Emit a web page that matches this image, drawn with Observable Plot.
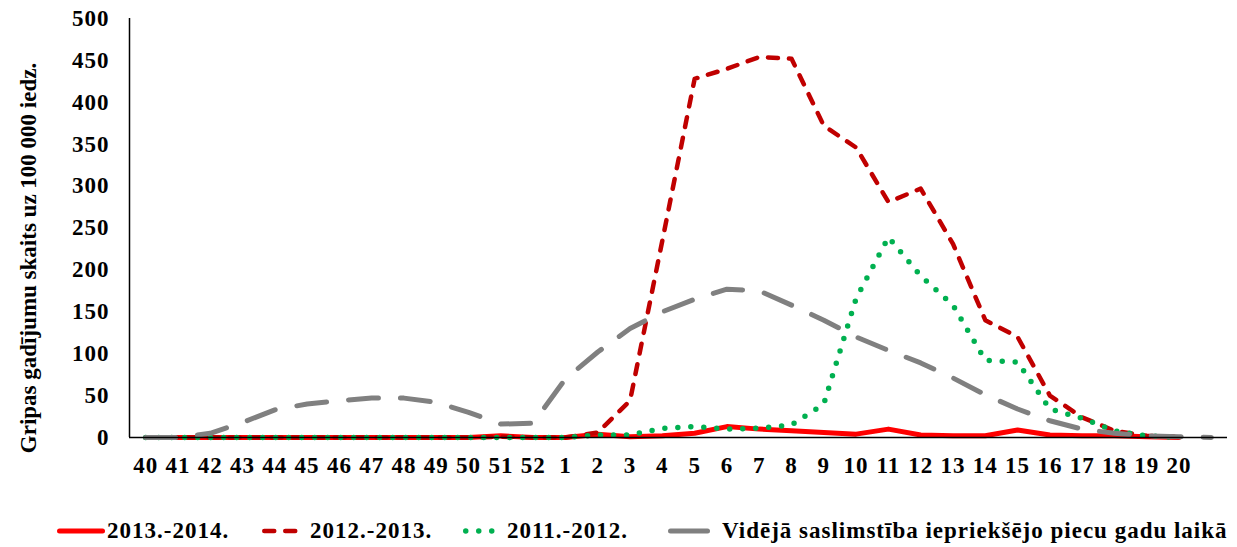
<!DOCTYPE html>
<html>
<head>
<meta charset="utf-8">
<script src="https://cdn.jsdelivr.net/npm/d3@7"></script>
<script src="https://cdn.jsdelivr.net/npm/@observablehq/plot@0.6"></script>
<style>
  body { margin: 0; background: #fff; }
  #wrap { position: relative; width: 1237px; height: 547px; font-family: "Liberation Serif", "Times New Roman", serif; font-weight: bold; color: #000; }
  #chart { position: absolute; left: 0; top: 0; }
  .lg { position: absolute; top: 516px; height: 30px; display: flex; align-items: center; font-size: 23px; letter-spacing: 1px; white-space: nowrap; }
  .lg svg { display: block; }
  #chart g[aria-label="x-axis tick label"] text, #chart g[aria-label="y-axis tick label"] text { letter-spacing: 1px; }
</style>
</head>
<body>
<div id="wrap"><div id="chart"></div><div id="legend"></div></div>
<script>
// Week labels (flu season, week 40 to week 20; last slot unlabeled)
const weeks = ["40","41","42","43","44","45","46","47","48","49","50","51","52",
  "1","2","3","4","5","6","7","8","9","10","11","12","13","14","15","16","17","18","19","20",""];

const yTicks = [0,50,100,150,200,250,300,350,400,450,500];
const yLabel = "Gripas gadījumu skaits uz 100 000 iedz.";

const seriesNames = ["2013.-2014.", "2012.-2013.", "2011.-2012.", "Vidējā saslimstība iepriekšējo piecu gadu laikā"];

// 2013.-2014.
const s2013_2014 = [0,0,0,0,0,0,0,0,0,0,0,2,0,
  0,4,1,2,5,13,10,8,6,4,10,3,2,2,9,3,2,2,1,0];
// 2012.-2013.
const s2012_2013 = [0,0,0,0,0,0,0,0,0,0,0,1,0,
  0,6,44,235,428,440,454,452,372,346,281,297,231,140,120,50,24,8,2,1];
// 2011.-2012.
const s2011_2012 = [0,0,0,0,0,0,0,0,0,0,0,0,0,
  0,3,3,11,13,10,11,15,40,166,239,193,158,92,90,34,23,8,2,0];
// Vidējā saslimstība iepriekšējo piecu gadu laikā
const sAverage = [0,0,5,18,33,40,44,47,47,42,30,16,17,
  70,102,130,150,165,177,175,158,140,120,104,89,71,51,34,20,10,5,2,1,0];

const colors = ["#FF0000", "#C00000", "#00B050", "#808080"];
const widths = [5, 4.5, 5.5, 5];
const dashes = [null, "10,11", "0,13", "30,22"];
const legendDashes = [null, "10,11", "0,13", null];

const toRows = (vals) => vals.map((v, i) => ({i, v}));
const allSeries = [s2013_2014, s2012_2013, s2011_2012, sAverage];

const lineMarks = allSeries.map((vals, k) => Plot.line(toRows(vals), {
  x: "i", y: "v",
  stroke: colors[k],
  strokeWidth: widths[k],
  strokeDasharray: dashes[k],
  strokeLinecap: "round",
  strokeLinejoin: "round"
}));

const chart = Plot.plot({
  width: 1237,
  height: 490,
  marginLeft: 129,
  marginRight: 10,
  marginTop: 18,
  marginBottom: 53,
  style: { fontFamily: "Liberation Serif, Times New Roman, serif", fontWeight: "bold", fontSize: "23px", color: "#000", background: "#fff" },
  x: { domain: [-0.5, weeks.length - 0.5] },
  y: { domain: [0, 500] },
  marks: [
    Plot.axisY({ ticks: yTicks, tickSize: 0, tickPadding: 20, fontSize: 23, fontWeight: "bold", label: null }),
    Plot.axisX({ ticks: d3.range(weeks.length), tickFormat: (i) => weeks[i], tickSize: 0, tickPadding: 19, fontSize: 23, fontWeight: "bold", label: null }),
    Plot.text([yLabel], { text: (d) => d, frameAnchor: "left", textAnchor: "middle", lineAnchor: "middle", rotate: -90, dx: -101, dy: 30, fontSize: 23, fontWeight: "bold", fill: "#000" }),
    ...lineMarks,
    Plot.ruleY([0], { stroke: "#000", strokeWidth: 1.5 }),
    Plot.ruleX([-0.5], { stroke: "#000", strokeWidth: 1.5 })
  ]
});
document.getElementById("chart").appendChild(chart);

// Legend
const legendPos = [
  { left: 57, sw: 48, gap: 2 },
  { left: 262, sw: 46, gap: 2 },
  { left: 463, sw: 42, gap: 2 },
  { left: 668, sw: 42, gap: 12 }
];
const legend = document.getElementById("legend");
seriesNames.forEach((name, k) => {
  const p = legendPos[k];
  const item = document.createElement("div");
  item.className = "lg";
  item.style.left = p.left + "px";
  const w = widths[k];
  const pad = w / 2;
  const svg = `<svg width="${p.sw}" height="12"><line x1="${pad}" y1="6" x2="${p.sw - pad}" y2="6" stroke="${colors[k]}" stroke-width="${w}" stroke-linecap="round" ${legendDashes[k] ? `stroke-dasharray="${legendDashes[k]}"` : ""}/></svg>`;
  item.innerHTML = svg + `<span style="margin-left:${p.gap}px">${name}</span>`;
  legend.appendChild(item);
});
</script>
</body>
</html>
